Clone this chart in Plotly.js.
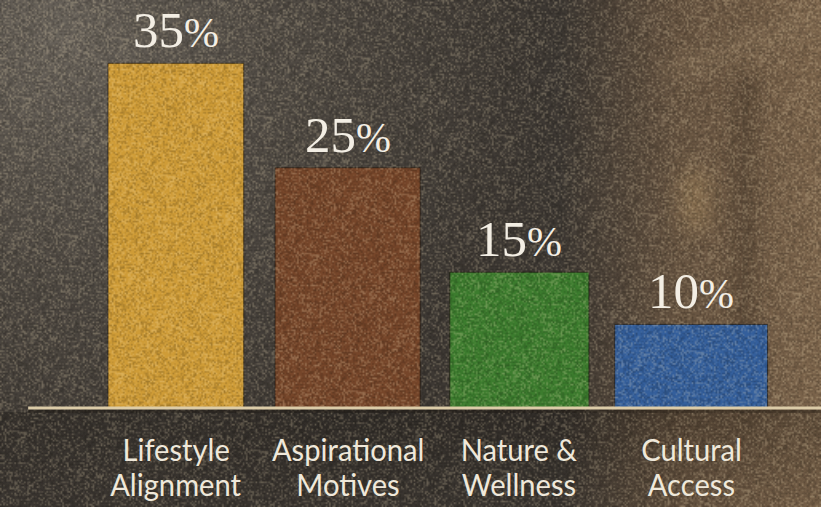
<!DOCTYPE html>
<html>
<head>
<meta charset="utf-8">
<script src="https://cdn.plot.ly/plotly-3.0.1.min.js"></script>
<style>
html,body{margin:0;padding:0;background:#3e3934;}
#chart{width:821px;height:507px;}
</style>
</head>
<body>
<div id="chart"></div>
<script>
// ---- data ----
const categories = ["Lifestyle<br>Alignment", "Aspirational<br>Motives", "Nature &<br>Wellness", "Cultural<br>Access"];
const values = [35, 25, 15, 10];
const valueLabels = ["35", "25", "15", "10"];

// ---- styling ----
const barColors = ["#cf9c37", "#76462a", "#3c7c2e", "#345f9c"];
const barWidths = [0.79, 0.845, 0.81, 0.89];

const W = 821, H = 507;
const mL = 90, mR = 44, mT = 32, mB = 99;
const plotW = W - mL - mR, plotH = H - mT - mB;

let seed = 12345;
const rnd = () => { seed = (seed * 1103515245 + 12345) & 0x7fffffff; return seed / 0x7fffffff; };

// decorative background
function makeBackground() {
  const c = document.createElement('canvas');
  c.width = W; c.height = H;
  const g = c.getContext('2d');
  g.fillStyle = '#3d3833';
  g.fillRect(0, 0, W, H);
  let rg = g.createRadialGradient(60, 30, 10, 60, 30, 480);
  rg.addColorStop(0, 'rgba(104,98,90,1)');
  rg.addColorStop(0.6, 'rgba(92,86,78,0.45)');
  rg.addColorStop(1, 'rgba(92,86,78,0)');
  g.fillStyle = rg; g.fillRect(0, 0, W, H);
  let lg = g.createLinearGradient(560, 0, W, 0);
  lg.addColorStop(0, 'rgba(130,102,74,0)');
  lg.addColorStop(0.45, 'rgba(130,102,74,0.6)');
  lg.addColorStop(1, 'rgba(140,112,82,0.8)');
  g.fillStyle = lg; g.fillRect(0, 0, W, H);
  g.save();
  g.filter = 'blur(10px)';
  g.strokeStyle = 'rgba(140,118,92,0.5)';
  g.lineWidth = 18;
  g.beginPath(); g.moveTo(660, 75); g.lineTo(821, 20); g.stroke();
  g.strokeStyle = 'rgba(45,34,25,0.45)';
  g.lineWidth = 14;
  g.beginPath(); g.moveTo(745, 75); g.lineTo(745, 400); g.stroke();
  g.fillStyle = 'rgba(195,160,110,0.35)';
  g.fillRect(680, 170, 30, 60);
  g.restore();
  let bot = g.createLinearGradient(0, 412, 0, H);
  bot.addColorStop(0, 'rgba(10,8,6,0.25)');
  bot.addColorStop(1, 'rgba(10,8,6,0.05)');
  g.fillStyle = bot; g.fillRect(0, 412, W, H - 412);
  return c.toDataURL('image/png');
}

// decorative grain overlay
function makeGrain() {
  const sw = Math.ceil(W / 1.6), sh = Math.ceil(H / 1.6);
  const s = document.createElement('canvas');
  s.width = sw; s.height = sh;
  const sg = s.getContext('2d');
  const img = sg.createImageData(sw, sh);
  for (let i = 0; i < sw * sh; i++) {
    const r = rnd();
    const p = i * 4;
    if (r < 0.3) {
      img.data[p] = 255; img.data[p + 1] = 236; img.data[p + 2] = 195; img.data[p + 3] = Math.floor(15 + rnd() * 50);
    } else if (r < 0.65) {
      img.data[p] = 10; img.data[p + 1] = 8; img.data[p + 2] = 5; img.data[p + 3] = Math.floor(15 + rnd() * 45);
    } else {
      img.data[p + 3] = 0;
    }
  }
  sg.putImageData(img, 0, 0);
  const c = document.createElement('canvas');
  c.width = W; c.height = H;
  const g = c.getContext('2d');
  g.imageSmoothingEnabled = true;
  g.drawImage(s, 0, 0, W, H);
  return c.toDataURL('image/png');
}

const trace = {
  type: 'bar',
  x: categories,
  y: values,
  width: barWidths,
  marker: {color: barColors, line: {color: 'rgba(25,18,12,0.6)', width: 1}},
  hoverinfo: 'skip'
};

const serif = 'Liberation Serif, DejaVu Serif, serif';
const sans = 'Lato, Liberation Sans, sans-serif';

const annotations = [];
values.forEach((v, i) => {
  annotations.push({
    x: categories[i], y: v, xref: 'x', yref: 'y',
    yanchor: 'bottom', yshift: 3, showarrow: false,
    text: valueLabels[i] + '<span style="font-size:42px">%</span>',
    font: {family: serif, size: 51, color: '#f3eee4'}
  });
  categories[i].split('<br>').forEach((line, j) => {
    annotations.push({
      x: categories[i], y: 0, xref: 'x', yref: 'paper',
      yanchor: 'middle', yshift: -41 - 35 * j, showarrow: false,
      text: line, name: 'cat', font: {family: sans, size: 31, color: '#efe8da'}
    });
  });
});

const xl = -mL / plotW, xr = 1 + mR / plotW;
const yb = -mB / plotH, yt = 1 + mT / plotH;

const layout = {
  width: W, height: H,
  margin: {l: mL, r: mR, t: mT, b: mB, pad: 0},
  paper_bgcolor: 'rgba(0,0,0,0)',
  plot_bgcolor: 'rgba(0,0,0,0)',
  showlegend: false,
  xaxis: {type: 'category', range: [-0.5, 3.5], visible: false, showgrid: false, zeroline: false},
  yaxis: {range: [2, 38], visible: false, showgrid: false, zeroline: false},
  annotations: annotations,
  images: [{
    source: makeGrain(), xref: 'paper', yref: 'paper',
    x: xl, y: yt, sizex: xr - xl, sizey: yt - yb,
    xanchor: 'left', yanchor: 'top', sizing: 'stretch', layer: 'above', opacity: 1
  }],
  shapes: [
    {type: 'line', xref: 'paper', yref: 'paper', x0: -0.09, x1: 1.07, y0: -0.008, y1: -0.008,
     line: {color: 'rgba(15,10,6,0.45)', width: 3}, layer: 'above'},
    {type: 'line', xref: 'paper', yref: 'paper', x0: -0.09, x1: 1.07, y0: 0, y1: 0,
     line: {color: '#dccca8', width: 3}, layer: 'above'}
  ]
};

document.getElementById('chart').style.background = 'url(' + makeBackground() + ')';
Plotly.newPlot('chart', [trace], layout, {displayModeBar: false, staticPlot: true}).then(gd => {
  // condense the category labels slightly
  gd.querySelectorAll('.annotation-text').forEach(t => {
    const u = t.getAttribute('data-unformatted') || '';
    if (u.indexOf('%') >= 0) return;
    const bb = t.getBBox();
    const cx = bb.x + bb.width / 2;
    const prev = t.getAttribute('transform') || '';
    t.setAttribute('transform', prev + ' translate(' + cx + ',0) scale(0.94,1) translate(' + (-cx) + ',0)');
  });
});
</script>
</body>
</html>
